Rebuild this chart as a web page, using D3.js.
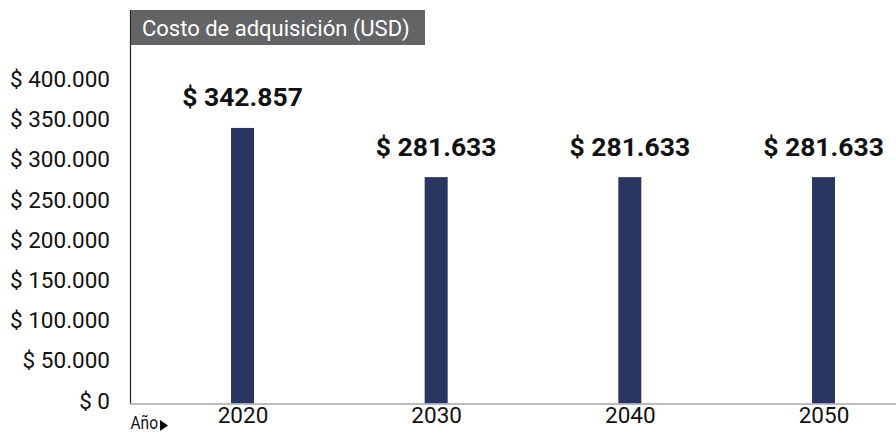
<!DOCTYPE html>
<html><head><meta charset="utf-8">
<script src="https://cdn.jsdelivr.net/npm/d3@7"></script>
<style>body{margin:0;background:#fff}svg{display:block}text{font-family:Roboto,"Noto Sans",sans-serif}</style>
</head><body><svg id="c" width="896" height="434"></svg>
<script>
const years = [2020, 2030, 2040, 2050];
const costs = [342857, 281633, 281633, 281633];
const yTicks = [0, 50000, 100000, 150000, 200000, 250000, 300000, 350000, 400000];
const title = "Costo de adquisición (USD)";
const axisName = "Año";

const svg = d3.select("#c");
const fmt = v => "$ " + d3.format(",")(v).replace(/,/g, ".");
const x = d3.scaleLinear().domain([2020, 2050]).range([242.5, 823.5]);
const y = d3.scaleLinear().domain([0, 400000]).range([403.5, 82]);
const barW = 23;

// bars
svg.selectAll("rect.bar").data(years).join("rect").attr("class","bar")
  .attr("x", (d)=>x(d)-barW/2).attr("width", barW)
  .attr("y", (d,i)=>y(costs[i])).attr("height", (d,i)=>y(0)-y(costs[i]))
  .attr("fill", "#2b3561");

// value labels
svg.selectAll("text.val").data(years).join("text").attr("class","val")
  .attr("x", d=>x(d)).attr("y", (d,i)=>y(costs[i]) - 31)
  .attr("text-anchor","middle").attr("dominant-baseline","central")
  .attr("font-size", 26.5).attr("font-weight", 700).attr("fill","#111")
  .text((d,i)=>fmt(costs[i]));

// y axis
const yAxis = d3.axisLeft(y).tickValues(yTicks).tickFormat(fmt).tickSize(0).tickPadding(20);
const gy = svg.append("g").attr("transform","translate(130,0)").call(yAxis);
gy.select(".domain").remove();
gy.selectAll("text").attr("font-size", 22.5).attr("fill","#111").attr("font-family","Roboto").attr("dy","0.2em");
svg.append("line").attr("x1",130.5).attr("x2",130.5).attr("y1",10).attr("y2",404).attr("stroke","#222").attr("stroke-width",1.2);

// x axis
const xAxis = d3.axisBottom(x).tickValues(years).tickFormat(d3.format("d")).tickSize(0).tickPadding(3);
const gx = svg.append("g").attr("transform","translate(0,404)").call(xAxis);
gx.select(".domain").remove();
gx.selectAll("text").attr("font-size", 22.5).attr("fill","#111").attr("font-family","Roboto");
svg.append("line").attr("x1",130).attr("x2",896).attr("y1",404).attr("y2",404).attr("stroke","#a6a6a6").attr("stroke-width",1.5);

// axis name
svg.append("text").attr("x",130.5).attr("y",429).attr("font-size",18)
  .attr("textLength",27.5).attr("lengthAdjust","spacingAndGlyphs").attr("fill","#111").text(axisName);
svg.append("path").attr("d","M160,420 L168,425.5 L160,431 Z").attr("fill","#000");

// title box
svg.append("rect").attr("x",131).attr("y",10).attr("width",294).attr("height",35).attr("fill","#636466");
svg.append("text").attr("x",142).attr("y",28).attr("dominant-baseline","central")
  .attr("font-size",22).attr("fill","#fff").text(title);
</script></body></html>
